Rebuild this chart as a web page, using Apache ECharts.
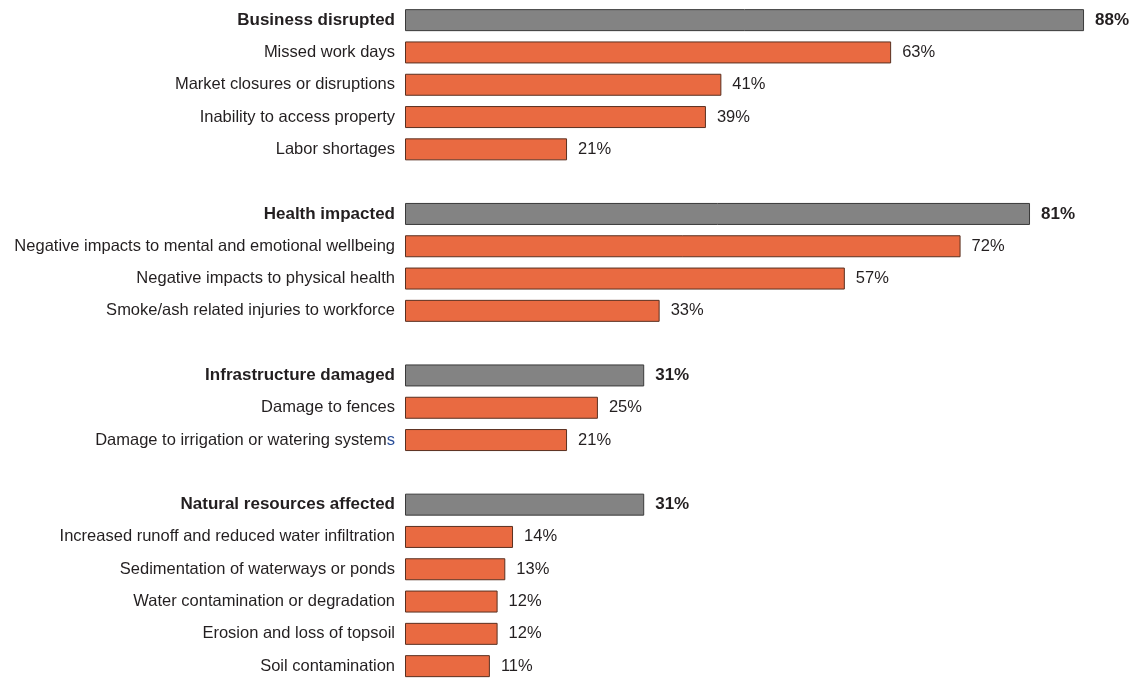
<!DOCTYPE html>
<html>
<head>
<meta charset="utf-8">
<script src="https://cdn.jsdelivr.net/npm/echarts@6/dist/echarts.min.js"></script>
<style>
  html, body { margin: 0; padding: 0; background: #fff; }
  #chart { width: 1147px; height: 679px; }
</style>
</head>
<body>
<div id="chart"></div>
<script>
// Rows top to bottom; empty strings are spacer rows between groups.
const categories = [
  'Business disrupted', 'Missed work days', 'Market closures or disruptions',
  'Inability to access property', 'Labor shortages', '',
  'Health impacted', 'Negative impacts to mental and emotional wellbeing',
  'Negative impacts to physical health', 'Smoke/ash related injuries to workforce', ' ',
  'Infrastructure damaged', 'Damage to fences', 'Damage to irrigation or watering systems', '  ',
  'Natural resources affected', 'Increased runoff and reduced water infiltration',
  'Sedimentation of waterways or ponds', 'Water contamination or degradation',
  'Erosion and loss of topsoil', 'Soil contamination'
];
const values = [88, 63, 41, 39, 21, null, 81, 72, 57, 33, null, 31, 25, 21, null, 31, 14, 13, 12, 12, 11];
const headers = ['Business disrupted', 'Health impacted', 'Infrastructure damaged', 'Natural resources affected'];

const GRAY = '#838383';
const ORANGE = '#E96A41';
const TEXT = '#231f20';
const FONT = '"Liberation Sans", Arial, sans-serif';

const data = values.map((v, i) => {
  const isHead = headers.includes(categories[i]);
  return {
    value: v,
    itemStyle: {
      color: isHead ? GRAY : ORANGE,
      borderColor: isHead ? '#3a3a3a' : '#5a3020',
      borderWidth: 1
    },
    label: { fontWeight: isHead ? 'bold' : 'normal', fontSize: isHead ? 17 : 16.5 }
  };
});

const chart = echarts.init(document.getElementById('chart'));
chart.setOption({
  animation: false,
  grid: { left: 405, top: 4, width: 742, height: 678.3, containLabel: false, outerBoundsMode: 'none' },
  xAxis: { type: 'value', min: 0, max: 96.16, show: false },
  yAxis: {
    type: 'category', data: categories, inverse: true,
    axisLine: { show: false }, axisTick: { show: false },
    axisLabel: {
      margin: 10, fontSize: 16.5, color: TEXT, fontFamily: FONT,
      formatter: function (v) {
        if (headers.includes(v)) return '{b|' + v + '}';
        if (v === 'Damage to irrigation or watering systems') return 'Damage to irrigation or watering system{s|s}';
        return v;
      },
      rich: {
        b: { fontWeight: 'bold', fontSize: 17, color: TEXT, fontFamily: FONT },
        s: { fontSize: 16.5, color: '#2a4f9a', fontFamily: FONT }
      }
    }
  },
  series: [{
    type: 'bar', data: data, barWidth: 22,
    label: {
      show: true, position: 'right', distance: 11,
      color: TEXT, fontFamily: FONT,
      formatter: p => p.value == null ? '' : p.value + '%'
    }
  }]
});
</script>
</body>
</html>
